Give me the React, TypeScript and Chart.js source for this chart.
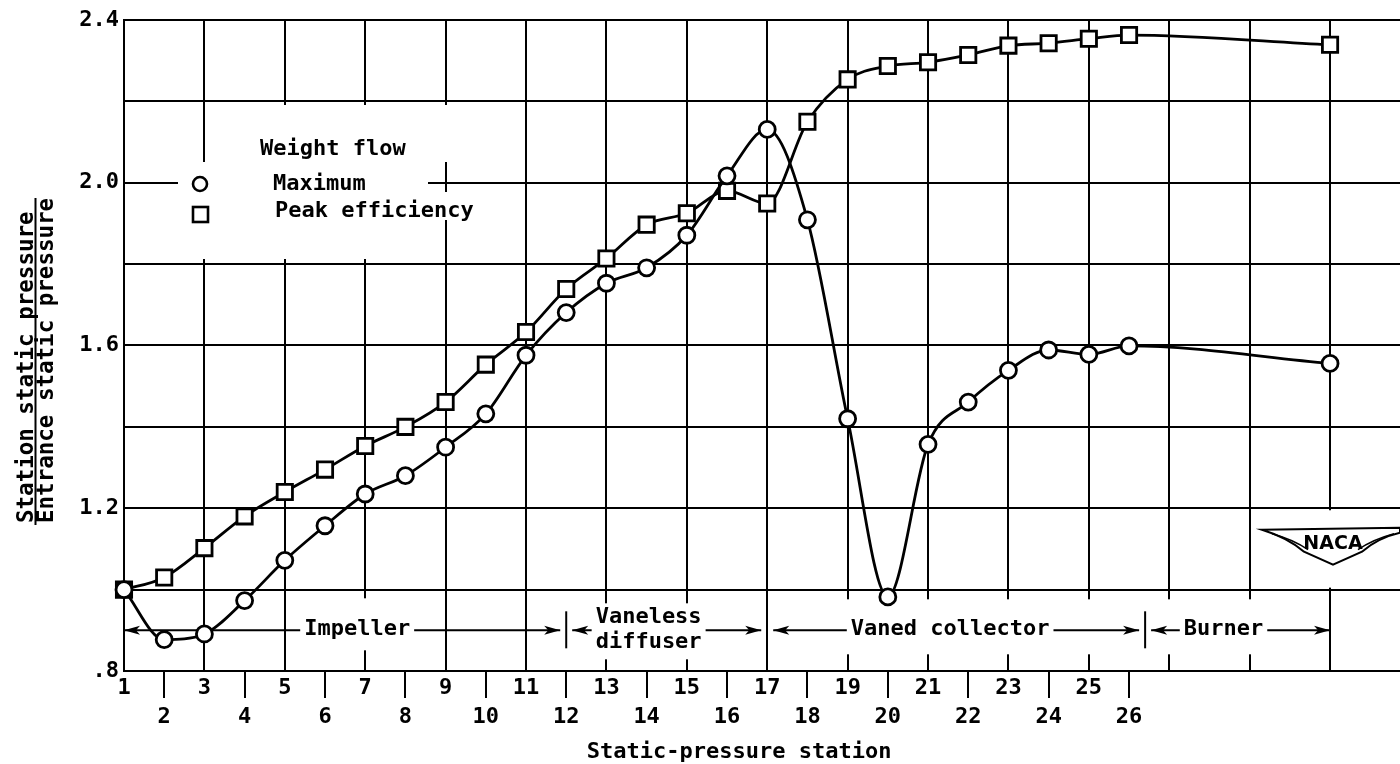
import React, { useEffect, useRef } from 'react';
import { Chart, registerables } from 'chart.js';

Chart.register(...registerables);

// ---------------- data ----------------
const stations = [1, 2, 3, 4, 5, 6, 7, 8, 9, 10, 11, 12, 13, 14, 15, 16, 17, 18, 19, 20, 21, 22, 23, 24, 25, 26, 31];
const maximumFlow = [1.0, 0.877, 0.891, 0.973, 1.072, 1.157, 1.235, 1.28, 1.35, 1.432, 1.576, 1.681, 1.753, 1.791, 1.871, 2.017, 2.131, 1.909, 1.42, 0.982, 1.357, 1.461, 1.539, 1.589, 1.578, 1.599, 1.556];
const peakEfficiencyFlow = [1.0, 1.03, 1.102, 1.18, 1.24, 1.295, 1.353, 1.4, 1.461, 1.553, 1.633, 1.739, 1.814, 1.897, 1.925, 1.98, 1.949, 2.15, 2.254, 2.287, 2.296, 2.314, 2.337, 2.343, 2.354, 2.363, 2.339];
const seriesLabels = ['Maximum', 'Peak efficiency'];
const legendTitle = 'Weight flow';
const lastLabeledStation = 26;
const yLabelValues = [0.8, 1.2, 1.6, 2.0, 2.4];
const yLabelTexts = ['.8', '1.2', '1.6', '2.0', '2.4'];
const sectionBounds = [1, 12, 17, 26.4, 31];
const sectionNames = [['Impeller'], ['Vaneless', 'diffuser'], ['Vaned collector'], ['Burner']];
const sectionLevel = 0.9;
const xTitle = 'Static-pressure station';
const yTitleTop = 'Station static pressure';
const yTitleBottom = 'Entrance static pressure';
const logoText = 'NACA';

// ---------------- layout constants ----------------
const MONO = '"DejaVu Sans Mono", "Liberation Mono", monospace';
const sectionLabelAt = [6.8, 14.05, 21.55, 28.35];

function arrowHead(ctx: CanvasRenderingContext2D, tipX: number, y: number, dir: number) {
  ctx.beginPath();
  ctx.moveTo(tipX, y);
  ctx.lineTo(tipX - dir * 16, y - 4.5);
  ctx.lineTo(tipX - dir * 12, y);
  ctx.lineTo(tipX - dir * 16, y + 4.5);
  ctx.closePath();
  ctx.fill();
}

const decorPlugin = {
  id: 'decor',
  beforeDatasetsDraw(chart: any) {
    const { ctx, scales } = chart;
    const xs = scales.x;
    const ys = scales.y;
    const px = (s: number) => xs.getPixelForValue(s);
    const py = (v: number) => ys.getPixelForValue(v);
    ctx.save();

    // ---- legend (white patches break the grid) ----
    ctx.fillStyle = '#fff';
    ctx.fillRect(235, 105, 217, 57);
    ctx.fillRect(178, 162, 250, 97);
    ctx.fillRect(428, 192, 50, 28);
    ctx.fillStyle = '#000';
    ctx.strokeStyle = '#000';
    ctx.font = `bold 22px ${MONO}`;
    ctx.textAlign = 'left';
    ctx.textBaseline = 'alphabetic';
    ctx.fillText(legendTitle, 260, 155);
    ctx.fillText(chart.data.datasets[0].label, 273, 190);
    ctx.fillText(chart.data.datasets[1].label, 275, 217);
    ctx.lineWidth = 2.6;
    ctx.beginPath();
    ctx.arc(200, 184, 7, 0, Math.PI * 2);
    ctx.stroke();
    ctx.strokeRect(193, 207, 15, 15);

    // ---- logo cell ----
    const yTop = py(1.2);
    const yBot = py(1.0);
    ctx.fillStyle = '#fff';
    ctx.fillRect(1256, yTop + 2, 150, yBot - yTop - 4);
    const cy = yTop + 0.46 * (yBot - yTop);
    ctx.beginPath();
    ctx.moveTo(1262, cy - 16);
    ctx.lineTo(1400, cy - 18);
    ctx.lineTo(1400, cy - 13);
    ctx.quadraticCurveTo(1378, cy - 8, 1362, cy + 6);
    ctx.lineTo(1333, cy + 19);
    ctx.lineTo(1304, cy + 6);
    ctx.quadraticCurveTo(1288, cy - 8, 1262, cy - 16);
    ctx.closePath();
    ctx.fill();
    ctx.lineWidth = 2;
    ctx.stroke();
    ctx.beginPath();
    ctx.moveTo(1272, cy - 12);
    ctx.quadraticCurveTo(1294, cy - 6, 1308, cy + 4);
    ctx.moveTo(1394, cy - 12);
    ctx.quadraticCurveTo(1372, cy - 6, 1358, cy + 4);
    ctx.lineWidth = 1.5;
    ctx.stroke();
    ctx.fillStyle = '#000';
    ctx.font = 'bold 19px "DejaVu Sans", sans-serif';
    ctx.textAlign = 'center';
    ctx.textBaseline = 'middle';
    ctx.fillText(logoText, 1333, cy - 2);

    // ---- sections ----
    const ay = py(sectionLevel);
    ctx.font = `bold 22px ${MONO}`;
    ctx.fillStyle = '#fff';
    ctx.fillRect(px(sectionBounds[2]) + 2, ay - 31, px(sectionBounds[4]) - px(sectionBounds[2]) - 4, 55);
    const boxes: number[][] = [];
    for (let i = 0; i < sectionNames.length; i++) {
      const lines = sectionNames[i];
      const w = Math.max(...lines.map((l) => ctx.measureText(l).width));
      const cx = px(sectionLabelAt[i]);
      boxes.push([cx - w / 2 - 4, cx + w / 2 + 4, cx]);
    }
    ctx.fillRect(boxes[0][0], ay - 32, boxes[0][1] - boxes[0][0], 52);
    ctx.fillRect(boxes[1][0] - 2, ay - 27, boxes[1][1] - boxes[1][0] + 4, 56);

    ctx.fillStyle = '#000';
    ctx.strokeStyle = '#000';
    ctx.lineWidth = 2;
    const last = sectionNames.length - 1;
    for (let i = 0; i < sectionNames.length; i++) {
      const tip0 = px(sectionBounds[i]) + (i === 0 ? 0 : 6);
      const tip1 = px(sectionBounds[i + 1]) - (i === last ? 0 : 6);
      const [tl, tr, cx] = boxes[i];
      ctx.beginPath();
      ctx.moveTo(tip0, ay);
      ctx.lineTo(tl, ay);
      ctx.moveTo(tr, ay);
      ctx.lineTo(tip1, ay);
      ctx.stroke();
      arrowHead(ctx, tip0, ay, -1);
      arrowHead(ctx, tip1, ay, 1);
      ctx.textAlign = 'center';
      ctx.textBaseline = 'middle';
      const lines = sectionNames[i];
      if (lines.length === 1) {
        ctx.fillText(lines[0], cx, ay - 1);
      } else {
        ctx.fillText(lines[0], cx, ay - 13);
        ctx.fillText(lines[1], cx, ay + 12);
      }
    }
    [sectionBounds[1], sectionBounds[3]].forEach((b) => {
      const x = px(b);
      ctx.beginPath();
      ctx.moveTo(x, ay - 19);
      ctx.lineTo(x, ay + 18);
      ctx.stroke();
    });

    // ---- axis titles ----
    ctx.font = `bold 22px ${MONO}`;
    ctx.textAlign = 'center';
    ctx.textBaseline = 'alphabetic';
    ctx.fillText(xTitle, px(16.3), 758);

    ctx.font = `bold 22.5px ${MONO}`;
    const w1 = ctx.measureText(yTitleTop).width;
    const w2 = ctx.measureText(yTitleBottom).width;
    ctx.textAlign = 'left';
    ctx.save();
    ctx.translate(33, 523);
    ctx.rotate(-Math.PI / 2);
    ctx.fillText(yTitleTop, 0, 0);
    ctx.restore();
    ctx.save();
    ctx.translate(53, 523);
    ctx.rotate(-Math.PI / 2);
    ctx.fillText(yTitleBottom, 0, 0);
    ctx.restore();
    ctx.lineWidth = 2;
    ctx.beginPath();
    ctx.moveTo(35.5, 525);
    ctx.lineTo(35.5, 523 - Math.max(w1, w2));
    ctx.stroke();

    ctx.restore();
  },
};

const isOdd = (v: any) => typeof v === 'number' && Number.isInteger(v) && Math.abs(v % 2) === 1;
const isEven = (v: any) => typeof v === 'number' && Number.isInteger(v) && v % 2 === 0;

export default function App() {
  const ref = useRef<HTMLCanvasElement | null>(null);

  useEffect(() => {
    if (!ref.current) return;
    const chart = new Chart(ref.current, {
      type: 'line',
      data: {
        datasets: [
          {
            label: seriesLabels[0],
            data: stations.map((s, i) => ({ x: s, y: maximumFlow[i] })),
            borderColor: '#000',
            borderWidth: 2.8,
            pointStyle: 'circle',
            pointRadius: 8,
            pointBorderWidth: 2.8,
            pointBackgroundColor: '#fff',
            pointBorderColor: '#000',
            cubicInterpolationMode: 'monotone',
            fill: false,
            clip: false,
          } as any,
          {
            label: seriesLabels[1],
            data: stations.map((s, i) => ({ x: s, y: peakEfficiencyFlow[i] })),
            borderColor: '#000',
            borderWidth: 2.8,
            pointStyle: 'rect',
            pointRadius: 10.8,
            pointBorderWidth: 2.8,
            pointBackgroundColor: '#fff',
            pointBorderColor: '#000',
            cubicInterpolationMode: 'monotone',
            fill: false,
            clip: false,
          } as any,
        ],
      },
      options: {
        responsive: false,
        animation: false,
        devicePixelRatio: 1,
        events: [],
        layout: { autoPadding: false, padding: { top: 20, left: 0, right: 0, bottom: 0 } },
        plugins: {
          legend: { display: false },
          tooltip: { enabled: false },
          title: { display: false },
        },
        scales: {
          x: {
            type: 'linear',
            min: 1,
            max: 32.74,
            afterFit: (scale: any) => {
              scale.height = 93;
            },
            ticks: {
              stepSize: 1,
              autoSkip: false,
              maxRotation: 0,
              minRotation: 0,
              includeBounds: false,
              padding: -24,
              color: '#000',
              font: { family: MONO, size: 22, weight: 'bold', lineHeight: 1.3 },
              callback: (v: any) => {
                const n = Number(v);
                if (!Number.isInteger(n) || n > lastLabeledStation) return '';
                return n % 2 === 1 ? [String(n)] : ['', String(n)];
              },
            },
            grid: {
              color: (c: any) => (isOdd(c.tick?.value) ? '#000' : 'rgba(0,0,0,0)'),
              lineWidth: 2,
              drawTicks: true,
              tickLength: 27,
              tickWidth: 2,
              tickColor: (c: any) =>
                isEven(c.tick?.value) && c.tick.value <= lastLabeledStation ? '#000' : 'rgba(0,0,0,0)',
            },
            border: { display: true, color: '#000', width: 2 },
          },
          y: {
            type: 'linear',
            min: 0.8,
            max: 2.4,
            afterFit: (scale: any) => {
              scale.width = 124;
            },
            ticks: {
              stepSize: 0.2,
              autoSkip: false,
              padding: 5,
              color: '#000',
              font: { family: MONO, size: 22, weight: 'bold' },
              callback: (v: any) => {
                const n = Number(v);
                const i = yLabelValues.findIndex((t) => Math.abs(t - n) < 1e-6);
                return i >= 0 ? yLabelTexts[i] : '';
              },
            },
            grid: {
              color: '#000',
              lineWidth: 2,
              drawTicks: false,
            },
            border: { display: true, color: '#000', width: 2 },
          },
        },
      } as any,
      plugins: [decorPlugin],
    });
    return () => chart.destroy();
  }, []);

  return (
    <div style={{ position: 'absolute', left: 0, top: 0, width: 1400, height: 764, background: '#fff' }}>
      <canvas ref={ref} width={1400} height={764} style={{ display: 'block' }} />
    </div>
  );
}
